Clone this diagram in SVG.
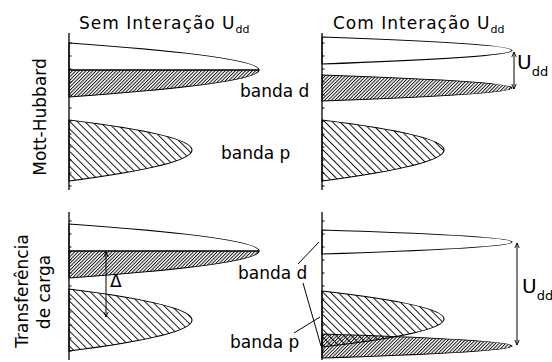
<svg xmlns="http://www.w3.org/2000/svg" width="552" height="362" viewBox="0 0 552 362">
<style>
.ax{stroke:#000;stroke-width:1.3;fill:none}
.tk{stroke:#000;stroke-width:1;fill:none}
.bd{stroke:#000;stroke-width:1.1}
.wh{fill:#fff}
.dn{fill:url(#dense)}
.sp{fill:url(#sparse)}
.ln{stroke:#000;stroke-width:1;fill:none}
text{font-family:"DejaVu Sans","Verdana",sans-serif;fill:#000}
.ttl{font-size:17px;letter-spacing:1px}
.lbl{font-size:17px}
.sub{font-size:11px}
.big{font-size:20px}
.sub2{font-size:13px}
</style>
<defs>
<pattern id="dense" patternUnits="userSpaceOnUse" width="2.4" height="10" patternTransform="rotate(45)">
<line x1="0.5" y1="0" x2="0.5" y2="10" stroke="#000" stroke-width="0.9"/>
</pattern>
<pattern id="sparse" patternUnits="userSpaceOnUse" width="5.3" height="10" patternTransform="rotate(-45)">
<line x1="0.5" y1="0" x2="0.5" y2="10" stroke="#000" stroke-width="0.9"/>
</pattern>
<marker id="ah" viewBox="0 0 10 10" refX="9" refY="5" markerWidth="6" markerHeight="6" orient="auto-start-reverse" markerUnits="userSpaceOnUse">
<path d="M0,1 L9,5 L0,9" fill="none" stroke="#000" stroke-width="1.5"/>
</marker>
</defs>

<g id="titles">
<text class="ttl" x="79" y="29">Sem Interação U<tspan class="sub" dy="4" letter-spacing="0">dd</tspan></text>
<text class="ttl" x="333" y="29">Com Interação U<tspan class="sub" dy="4" letter-spacing="0">dd</tspan></text>
</g>

<g id="row-labels">
<text class="lbl" text-anchor="middle" transform="translate(45.5,117) rotate(-90)">Mott-Hubbard</text>
<text class="lbl" text-anchor="middle" transform="translate(28,291) rotate(-90)">Transferência</text>
<text class="lbl" text-anchor="middle" transform="translate(50,292) rotate(-90)">de carga</text>
</g>

<g id="panel-mh-sem">
<path class="bd wh" d="M69,43 Q259,56.5 259,70 L69,70 Z"/>
<path class="bd dn" d="M69,70 L259,70 Q259,83.5 69,97 Z"/>
<path class="bd sp" d="M69,120 Q192,135 192,150 Q192,165 69,181 Z"/>
<line class="ax" x1="69" y1="33" x2="69" y2="190"/>
<path class="tk" d="M69,43h2.5M69,56h2.5M69,69h2.5M69,82h2.5M69,95h2.5M69,108h2.5M69,121h2.5M69,134h2.5M69,147h2.5M69,160h2.5M69,173h2.5M69,186h2.5"/>
<text class="lbl" x="240" y="97">banda d</text>
<text class="lbl" x="221" y="159">banda p</text>
</g>

<g id="panel-mh-com">
<path class="bd wh" d="M322,37 Q512,43.5 512,50.5 Q512,57 322,64 Z"/>
<path class="bd dn" d="M322,75 Q512,81.5 512,88 Q512,94.5 322,101 Z"/>
<path class="bd sp" d="M322,120 Q444,135 444,150 Q444,165 322,181 Z"/>
<line class="ax" x1="322" y1="33" x2="322" y2="190"/>
<path class="tk" d="M322,43h2.5M322,56h2.5M322,69h2.5M322,82h2.5M322,95h2.5M322,108h2.5M322,121h2.5M322,134h2.5M322,147h2.5M322,160h2.5M322,173h2.5M322,186h2.5"/>
<text class="big" x="517" y="69">U<tspan class="sub2" dy="7">dd</tspan></text>
</g>

<g id="panel-ct-sem">
<path class="bd wh" d="M69,224 Q259,237.5 259,251 L69,251 Z"/>
<path class="bd dn" d="M69,251 L259,251 Q259,264.5 69,278 Z"/>
<path class="bd sp" d="M69,289 Q192,304.5 192,320 Q192,335.5 69,351 Z"/>
<line class="ax" x1="69" y1="212" x2="69" y2="360"/>
<path class="tk" d="M69,221h2.5M69,234h2.5M69,247h2.5M69,260h2.5M69,273h2.5M69,286h2.5M69,299h2.5M69,312h2.5M69,325h2.5M69,338h2.5M69,351h2.5"/>
<text class="lbl" x="110" y="287" font-size="15">Δ</text>
</g>

<g id="panel-ct-com">
<path class="bd wh" d="M322,230 Q512,236 512,242 Q512,248 322,254 Z"/>
<path class="bd sp" d="M322,291 Q444,305 444,319 Q444,333 322,347 Z"/>
<path class="bd dn" d="M322,334 Q512,340 512,346 Q512,352 322,358 Z"/>
<line class="ax" x1="322" y1="212" x2="322" y2="360"/>
<path class="tk" d="M322,221h2.5M322,234h2.5M322,247h2.5M322,260h2.5M322,273h2.5M322,286h2.5M322,299h2.5M322,312h2.5M322,325h2.5M322,338h2.5M322,351h2.5"/>
<text class="lbl" x="238" y="279">banda d</text>
<text class="lbl" x="230" y="348">banda p</text>
<text class="big" x="522" y="293">U<tspan class="sub2" dy="7">dd</tspan></text>
</g>

<g id="connectors">
<line class="ln" x1="514" y1="52" x2="514" y2="89" marker-start="url(#ah)" marker-end="url(#ah)"/>
<line class="ln" x1="106" y1="252" x2="106" y2="317" marker-start="url(#ah)" marker-end="url(#ah)"/>
<line class="ln" x1="517" y1="243" x2="517" y2="345" marker-start="url(#ah)" marker-end="url(#ah)"/>
<line class="ln" x1="298" y1="264" x2="319" y2="242"/>
<line class="ln" x1="303" y1="283" x2="321" y2="346"/>
<line class="ln" x1="294" y1="333" x2="320" y2="317"/>
</g>
</svg>
